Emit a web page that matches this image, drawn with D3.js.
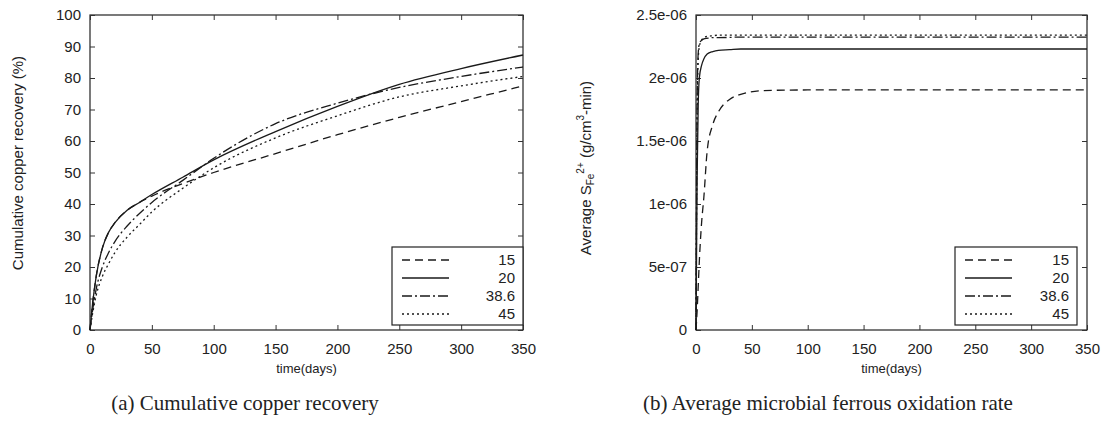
<!DOCTYPE html>
<html lang="en">
<head>
<meta charset="UTF-8">
<title>Copper recovery and ferrous oxidation</title>
<script src="https://cdnjs.cloudflare.com/ajax/libs/d3/7.8.5/d3.min.js"></script>
<style>
  body { margin: 0; background: #fff; }
  svg text { font-family: "Liberation Sans", Arial, sans-serif; fill: #222; }
  svg text.caption { font-family: "Liberation Serif", "DejaVu Serif", serif; }
</style>
</head>
<body>
<svg id="chart" width="1113" height="430"></svg>
<script>
// series names (legend)
const seriesNames = ['15', '20', '38.6', '45'];
const dashes = ['8,5', null, '10,3,2,3', '2,3'];

// (a) cumulative copper recovery (%)
const daysA = [0, 2, 5, 10, 15, 20, 30, 40, 50, 75, 100, 150, 200, 250, 300, 350];
const rec15 = [0, 8, 17, 26, 31, 34, 38, 40.5, 42.5, 46.5, 50, 56, 62, 67.5, 72.5, 77.5];
const rec20 = [0, 8, 17, 26, 31, 34, 38, 40.5, 43, 48.5, 54, 63, 71, 78, 83, 87.3];
const rec386 = [0, 6, 13, 20, 24.5, 28, 33, 37, 40.5, 47.5, 54.5, 65.5, 72, 77, 80.5, 83.5];
const rec45 = [0, 5, 11, 17, 21, 24.5, 29.5, 33.5, 37.5, 45, 51.5, 61, 68, 74, 77.5, 80.5];

// (b) average microbial ferrous oxidation rate
const daysB = [0, 1, 2, 3, 5, 7, 10, 15, 20, 30, 40, 60, 100, 200, 350];
const rate15 = [0, 0.15e-6, 0.35e-6, 0.55e-6, 0.85e-6, 1.05e-6, 1.42e-6, 1.63e-6, 1.73e-6, 1.83e-6, 1.87e-6, 1.9e-6, 1.905e-6, 1.905e-6, 1.905e-6];
const rate20 = [0, 1.2e-6, 1.8e-6, 2.0e-6, 2.1e-6, 2.15e-6, 2.19e-6, 2.21e-6, 2.22e-6, 2.225e-6, 2.23e-6, 2.23e-6, 2.23e-6, 2.23e-6, 2.23e-6];
const rate386 = [0, 1.8e-6, 2.2e-6, 2.27e-6, 2.3e-6, 2.31e-6, 2.315e-6, 2.32e-6, 2.32e-6, 2.322e-6, 2.325e-6, 2.325e-6, 2.325e-6, 2.325e-6, 2.325e-6];
const rate45 = [0, 1.6e-6, 2.15e-6, 2.25e-6, 2.3e-6, 2.32e-6, 2.33e-6, 2.335e-6, 2.34e-6, 2.34e-6, 2.34e-6, 2.34e-6, 2.34e-6, 2.34e-6, 2.34e-6];

const xTicks = [0, 50, 100, 150, 200, 250, 300, 350];
const yTicksA = [0, 10, 20, 30, 40, 50, 60, 70, 80, 90, 100];
const yTicksB = [0, 5e-7, 1e-6, 1.5e-6, 2e-6, 2.5e-6];
const yLabelsB = ['0', '5e-07', '1e-06', '1.5e-06', '2e-06', '2.5e-06'];

const svg = d3.select('#chart');

function drawPanel(opt) {
    const x = d3.scaleLinear().domain([0, 350]).range([opt.left, opt.right]);
    const y = d3.scaleLinear().domain(opt.yDomain).range([330, 15]);
    const g = svg.append('g');

    // frame
    g.append('rect')
        .attr('x', opt.left).attr('y', 15)
        .attr('width', opt.right - opt.left).attr('height', 315)
        .attr('fill', 'none').attr('stroke', '#222').attr('stroke-width', 1.2);

    // axes with inward ticks on all sides
    const fmtY = d => opt.yLabels ? opt.yLabels[opt.yTicks.indexOf(d)] : d;
    g.append('g').attr('transform', 'translate(0,330)')
        .call(d3.axisBottom(x).tickValues(xTicks).tickSize(-5).tickPadding(13))
        .call(a => a.select('.domain').remove());
    g.append('g').attr('transform', 'translate(0,15)')
        .call(d3.axisTop(x).tickValues(xTicks).tickSize(-5).tickFormat(''))
        .call(a => a.select('.domain').remove());
    g.append('g').attr('transform', `translate(${opt.left},0)`)
        .call(d3.axisLeft(y).tickValues(opt.yTicks).tickSize(-5).tickPadding(9).tickFormat(fmtY))
        .call(a => a.select('.domain').remove());
    g.append('g').attr('transform', `translate(${opt.right},0)`)
        .call(d3.axisRight(y).tickValues(opt.yTicks).tickSize(-5).tickFormat(''))
        .call(a => a.select('.domain').remove());
    g.selectAll('.tick line').attr('stroke', '#333');
    g.selectAll('.tick text').attr('font-size', 15).attr('fill', '#222');

    // curves
    const line = d3.line().x(d => x(d[0])).y(d => y(d[1])).curve(d3.curveMonotoneX);
    opt.series.forEach((vals, i) => {
        g.append('path')
            .datum(opt.days.map((d, k) => [d, vals[k]]))
            .attr('d', line)
            .attr('fill', 'none')
            .attr('stroke', '#1a1a1a')
            .attr('stroke-width', 1.3)
            .attr('stroke-dasharray', dashes[i]);
    });

    // legend
    const lg = g.append('g');
    lg.append('rect')
        .attr('x', opt.legX).attr('y', 247)
        .attr('width', opt.legW).attr('height', 78)
        .attr('fill', '#fff').attr('stroke', '#222').attr('stroke-width', 1.2);
    seriesNames.forEach((name, i) => {
        const yy = 260 + i * 18;
        lg.append('line')
            .attr('x1', opt.legX + 10).attr('x2', opt.legX + 57)
            .attr('y1', yy).attr('y2', yy)
            .attr('stroke', '#1a1a1a').attr('stroke-width', 1.3)
            .attr('stroke-dasharray', dashes[i]);
        lg.append('text')
            .attr('x', opt.legX + opt.legW - 8).attr('y', yy + 5)
            .attr('text-anchor', 'end').attr('font-size', 15)
            .text(name);
    });

    // x label
    g.append('text')
        .attr('x', (opt.left + opt.right) / 2).attr('y', 373)
        .attr('text-anchor', 'middle').attr('font-size', 13)
        .text('time(days)');

    // caption
    g.append('text').attr('class', 'caption')
        .attr('x', opt.capX).attr('y', 410)
        .attr('text-anchor', 'middle').attr('font-size', 21)
        .text(opt.caption);
    return g;
}

drawPanel({
    left: 90, right: 523, yDomain: [0, 100], yTicks: yTicksA,
    days: daysA, series: [rec15, rec20, rec386, rec45],
    legX: 392, legW: 131, capX: 245,
    caption: '(a) Cumulative copper recovery'
});
drawPanel({
    left: 696, right: 1087, yDomain: [0, 2.5e-6], yTicks: yTicksB, yLabels: yLabelsB,
    days: daysB, series: [rate15, rate20, rate386, rate45],
    legX: 955, legW: 122, capX: 828,
    caption: '(b) Average microbial ferrous oxidation rate'
});

// y labels
svg.append('text')
    .attr('transform', 'translate(23,163) rotate(-90)')
    .attr('text-anchor', 'middle').attr('font-size', 15)
    .text('Cumulative copper recovery (%)');

const yl = svg.append('text')
    .attr('transform', 'translate(591,168) rotate(-90)')
    .attr('text-anchor', 'middle').attr('font-size', 15);
yl.append('tspan').text('Average S');
yl.append('tspan').attr('font-size', 10).attr('dy', 3).text('Fe');
yl.append('tspan').attr('font-size', 10).attr('dy', -10).text('2+');
yl.append('tspan').attr('dy', 7).text(' (g/cm');
yl.append('tspan').attr('font-size', 10).attr('dy', -7).text('3');
yl.append('tspan').attr('dy', 7).text('-min)');
</script>
</body>
</html>
